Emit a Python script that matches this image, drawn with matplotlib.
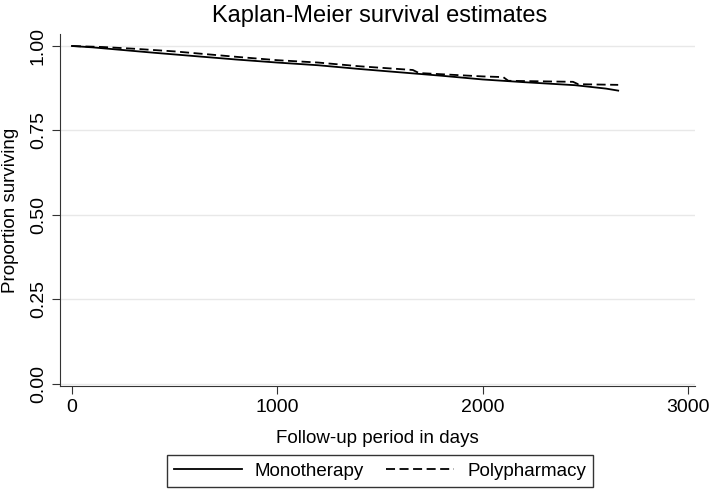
import numpy as np
import matplotlib
matplotlib.use('Agg')
import matplotlib.pyplot as plt

plt.rcParams['font.family'] = ['Liberation Sans', 'DejaVu Sans']

# survival estimates (days, proportion surviving)
mono_days = [0, 100, 250, 400, 600, 800, 1000, 1200, 1400, 1600, 1800, 2000, 2200, 2450, 2600, 2660]
mono_surv = [1.000, 0.996, 0.988, 0.980, 0.970, 0.960, 0.951, 0.943, 0.932, 0.922, 0.912, 0.901, 0.893, 0.884, 0.874, 0.868]

poly_days = [0, 150, 300, 500, 800, 1000, 1200, 1400, 1660, 1690, 2000, 2100, 2125, 2440, 2465, 2660]
poly_surv = [1.000, 0.997, 0.992, 0.984, 0.968, 0.958, 0.951, 0.940, 0.929, 0.920, 0.910, 0.908, 0.897, 0.894, 0.887, 0.885]

labels = ['Monotherapy', 'Polypharmacy']
xticks = [0, 1000, 2000, 3000]
yticks = [0.00, 0.25, 0.50, 0.75, 1.00]

fig = plt.figure(figsize=(7.09, 4.90), dpi=100)
ax = fig.add_axes([60/709, 1-386/490, 635/709, 352/490])

ax.plot(mono_days, mono_surv, color='black', lw=1.3, label=labels[0])
ax.plot(poly_days, poly_surv, color='black', lw=1.3,
        linestyle=(0, (5, 2.5)), label=labels[1])

ax.set_xlim(-58, 3034)
ax.set_ylim(-0.006, 1.0355)
ax.set_xticks(xticks)
ax.set_yticks(yticks)
ax.set_yticklabels(['%.2f' % v for v in yticks], rotation=90, va='center')
ax.tick_params(labelsize=14, color='#333333', length=6)
ax.grid(axis='y', color='#e8e8e8', lw=1)
ax.set_axisbelow(True)
for s in ['top', 'right']:
    ax.spines[s].set_visible(False)
for s in ['left', 'bottom']:
    ax.spines[s].set_color('#333333')

ax.set_xlabel('Follow-up period in days', fontsize=13.5, labelpad=10)
ax.set_ylabel('Proportion surviving', fontsize=13.5, labelpad=8)
fig.text(380/709, 1-16/490, 'Kaplan-Meier survival estimates', ha='center', va='center', fontsize=17)

leg = fig.legend(loc='center', bbox_to_anchor=(380/709, 1-471/490), ncol=2, fontsize=13.5,
                 frameon=True, fancybox=False, handlelength=3.6, columnspacing=1.2,
                 handletextpad=0.7, borderpad=0.4)
leg.get_frame().set_edgecolor('black')
leg.get_frame().set_linewidth(1)

fig.savefig('out.png', dpi=100)
